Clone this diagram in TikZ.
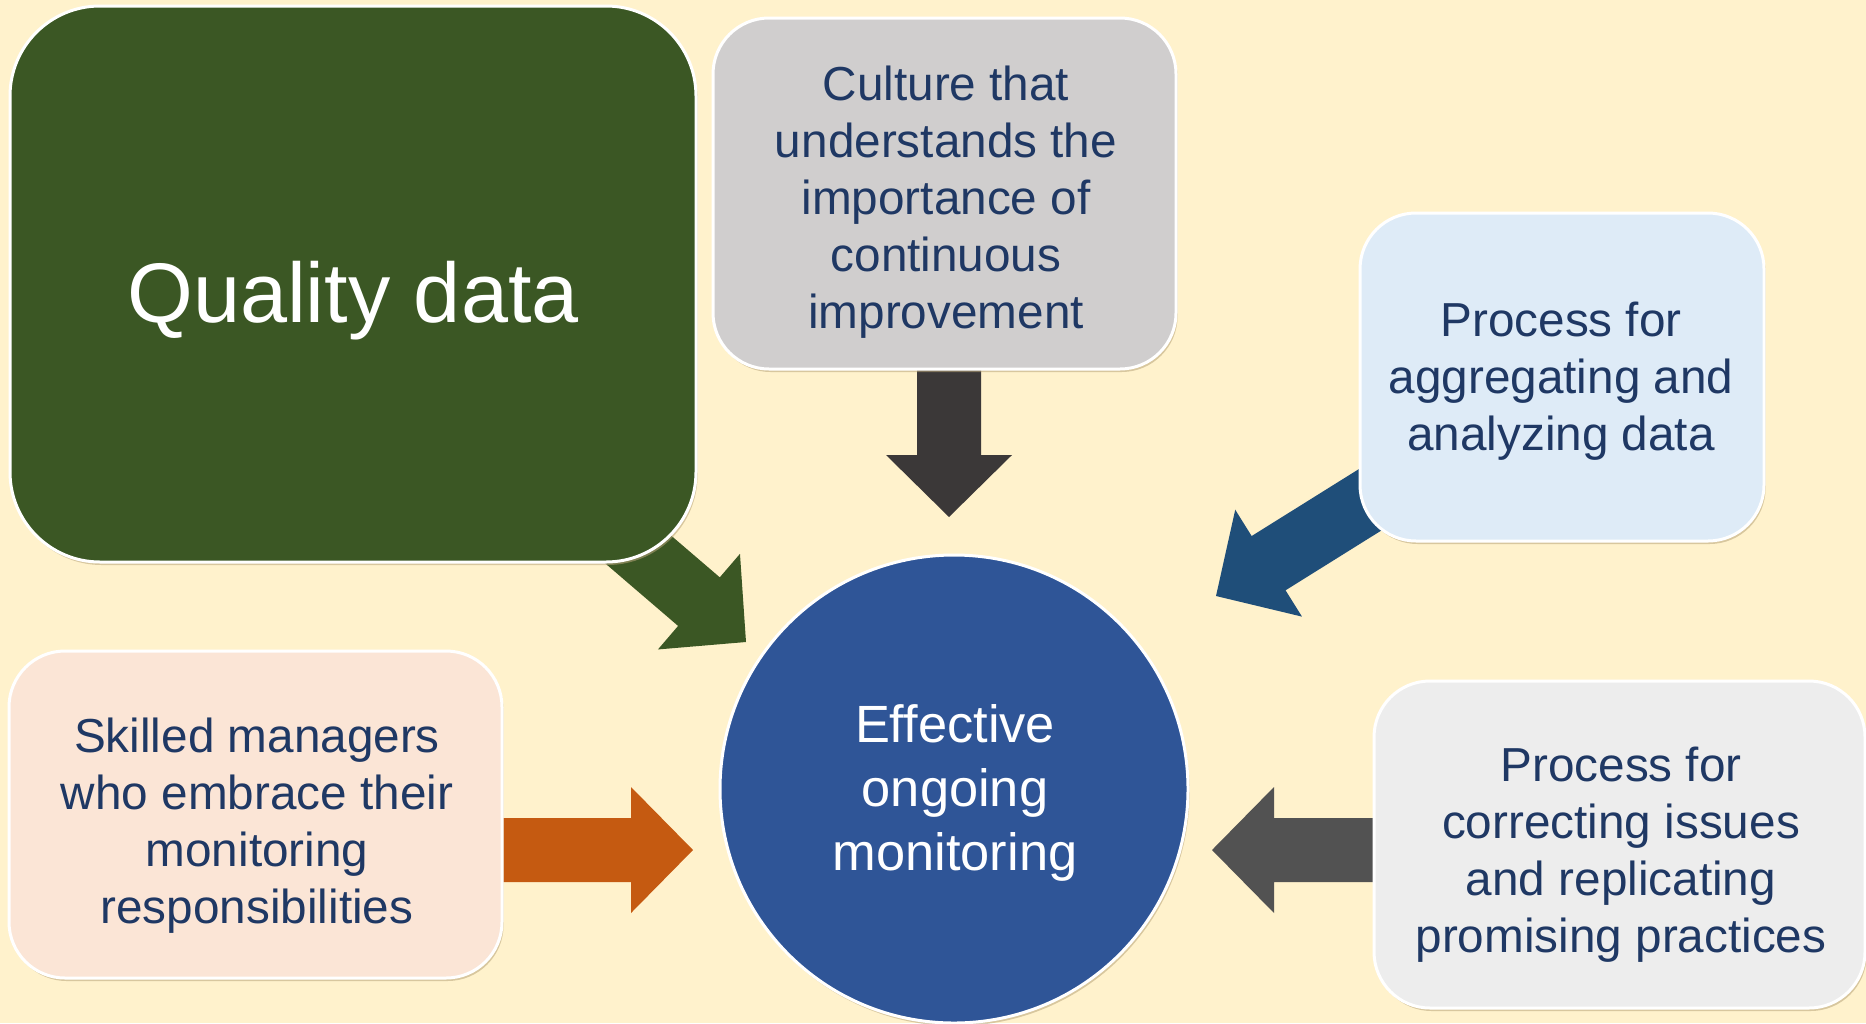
\documentclass[tikz,border=0pt]{standalone}
\usepackage{fontspec}
\setmainfont{Liberation Sans}
\usetikzlibrary{calc,shadows}
\definecolor{bgcream}{HTML}{FFF2CC}
\definecolor{qgreen}{HTML}{3B5724}
\definecolor{cultgray}{HTML}{D0CECE}
\definecolor{aggblue}{HTML}{DEEBF7}
\definecolor{skpink}{HTML}{FBE5D6}
\definecolor{corgray}{HTML}{EDEDED}
\definecolor{circblue}{HTML}{2F5597}
\definecolor{txtnavy}{HTML}{1F3864}
\definecolor{arrdark}{HTML}{3B3838}
\definecolor{arrgray}{HTML}{525252}
\definecolor{arrorange}{HTML}{C55A11}
\definecolor{arrblue}{HTML}{1F4E79}
\definecolor{shadowcol}{HTML}{B8A47A}
\newcommand\blkarrow[4]{%
  \coordinate (#4h) at ($(#3)!31pt!(#2)$);
  \fill[#1] (#3) -- ($(#4h)!31.5pt!90:(#3)$) -- ($(#4h)!16pt!90:(#3)$)
    -- ($(#2)!16pt!90:(#4h)$) -- ($(#2)!16pt!-90:(#4h)$)
    -- ($(#4h)!16pt!-90:(#3)$) -- ($(#4h)!31.5pt!-90:(#3)$) -- cycle;
}
\tikzset{
  boxbase/.style={draw=white, line width=1.5pt, inner sep=0pt,
    drop shadow={shadow xshift=0.8pt, shadow yshift=-1.5pt, fill=shadowcol, opacity=0.55}},
  smalltxt/.style={align=center, inner sep=0pt, text=txtnavy, font=\fontsize{23.85pt}{28.5pt}\selectfont},
  bigtxt/.style={align=center, inner sep=0pt, text=white},
  cornerbig/.style={rounded corners=45pt},
  cornersmall/.style={rounded corners=28pt},
}
\begin{document}
\begin{tikzpicture}[x=0.5pt,y=-0.5pt]
\useasboundingbox (0,0) rectangle (1866,1023);
\fill[bgcream] (0,0) rectangle (1866,1023);

% arrow endpoints
\coordinate (gs) at (556,479);  \coordinate (gt) at (746,642);
\coordinate (ds) at (949,360);  \coordinate (dt) at (949,517);
\coordinate (bs) at (1429,463); \coordinate (bt) at (1216,596);
\coordinate (os) at (495,850);  \coordinate (ot) at (693,850);
\coordinate (rs) at (1385,850); \coordinate (rt) at (1212,850);

\blkarrow{qgreen}{gs}{gt}{ga}
\blkarrow{arrdark}{ds}{dt}{da}
\blkarrow{arrblue}{bs}{bt}{ba}
\blkarrow{arrorange}{os}{ot}{oa}
\blkarrow{arrgray}{rs}{rt}{ra}

% boxes
\node[boxbase, cornerbig, fill=qgreen, minimum width=343pt, minimum height=278pt] (q) at (353,284) {};
\node[bigtxt, font=\fontsize{42.3pt}{50pt}\selectfont] (qt) at (353,301) {Quality data};

\node[boxbase, cornersmall, fill=cultgray, minimum width=231.5pt, minimum height=175.5pt] (cul) at (944.5,193.5) {};
\node[smalltxt] (cult) at (946,202) {Culture that\\understands the\\importance of\\continuous\\improvement};

\node[boxbase, cornersmall, fill=aggblue, minimum width=202pt, minimum height=164pt] (agg) at (1562,377) {};
\node[smalltxt] (aggt) at (1561,381) {Process for\\aggregating and\\analyzing data};

\node[boxbase, cornersmall, fill=skpink, minimum width=246.5pt, minimum height=163.5pt] (sk) at (255.5,814.5) {};
\node[smalltxt] (skt) at (257,826) {Skilled managers\\who embrace their\\monitoring\\responsibilities};

\node[boxbase, cornersmall, fill=corgray, minimum width=245.5pt, minimum height=163.5pt] (cor) at (1619.5,844.5) {};
\node[smalltxt] (cort) at (1621,855) {Process for\\correcting issues\\and replicating\\promising practices};

\node[boxbase, circle, fill=circblue, minimum size=234pt] (c) at (954,789) {};
\node[bigtxt, font=\fontsize{26.2pt}{32pt}\selectfont] (ct) at (955,793) {Effective\\ongoing\\monitoring};
\end{tikzpicture}
\end{document}
